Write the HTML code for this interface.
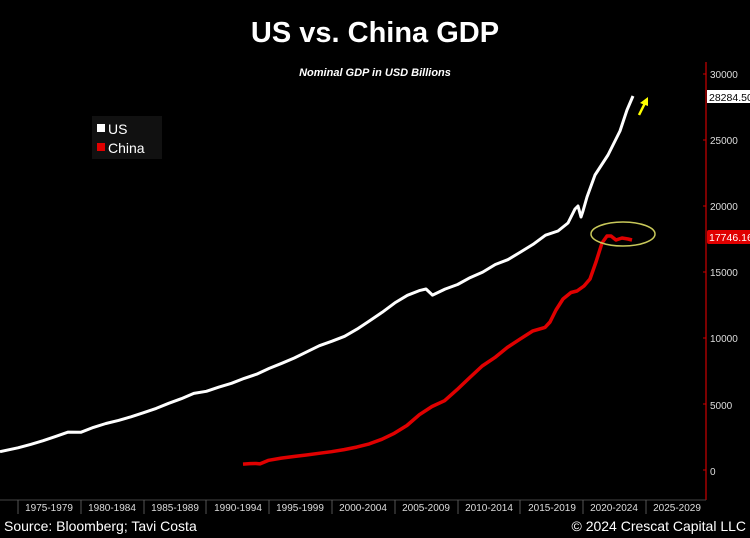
<!DOCTYPE html>
<html><head><style>
body{margin:0;background:#000;width:750px;height:538px;overflow:hidden;font-family:"Liberation Sans",sans-serif}
</style></head><body>
<svg width="750" height="538" xmlns="http://www.w3.org/2000/svg" style="display:block">
<rect width="750" height="538" fill="#000"/>
<text x="375" y="42" fill="#fff" font-size="29" font-weight="bold" text-anchor="middle">US vs. China GDP</text>
<text x="375" y="76" fill="#fff" font-size="11" font-weight="bold" font-style="italic" text-anchor="middle">Nominal GDP in USD Billions</text>
<!-- axis -->
<line x1="706" y1="62" x2="706" y2="500" stroke="#c00" stroke-width="1.2"/>
<line x1="0" y1="500" x2="706" y2="500" stroke="#444" stroke-width="1"/>
<g fill="#ddd" font-size="10" font-family="Liberation Sans Narrow,Liberation Sans,sans-serif">
<text x="710" y="78">30000</text><text x="710" y="144">25000</text><text x="710" y="210">20000</text>
<text x="710" y="276">15000</text><text x="710" y="342">10000</text><text x="710" y="409">5000</text><text x="710" y="475">0</text>
</g>
<g stroke="#c00"><line x1="703" y1="74" x2="706" y2="74"/><line x1="703" y1="140" x2="706" y2="140"/><line x1="703" y1="206" x2="706" y2="206"/><line x1="703" y1="272" x2="706" y2="272"/><line x1="703" y1="338" x2="706" y2="338"/><line x1="703" y1="404" x2="706" y2="404"/><line x1="703" y1="470" x2="706" y2="470"/></g>
<g stroke="#555"><line x1="18" y1="500" x2="18" y2="514"/><line x1="81" y1="500" x2="81" y2="514"/><line x1="144" y1="500" x2="144" y2="514"/><line x1="206" y1="500" x2="206" y2="514"/><line x1="269" y1="500" x2="269" y2="514"/><line x1="332" y1="500" x2="332" y2="514"/><line x1="395" y1="500" x2="395" y2="514"/><line x1="458" y1="500" x2="458" y2="514"/><line x1="520" y1="500" x2="520" y2="514"/><line x1="583" y1="500" x2="583" y2="514"/><line x1="646" y1="500" x2="646" y2="514"/></g>
<g fill="#ddd" font-size="10" text-anchor="middle">
<text x="49" y="511">1975-1979</text><text x="112" y="511">1980-1984</text><text x="175" y="511">1985-1989</text><text x="238" y="511">1990-1994</text><text x="300" y="511">1995-1999</text><text x="363" y="511">2000-2004</text><text x="426" y="511">2005-2009</text><text x="489" y="511">2010-2014</text><text x="552" y="511">2015-2019</text><text x="614" y="511">2020-2024</text><text x="677" y="511">2025-2029</text>
</g>
<!-- US: x=18+(yr-1975)*12.56, y=470-v*0.0132 -->
<polyline fill="none" stroke="#fff" stroke-width="3" stroke-linejoin="round" points="0,451.6 18,447.8 30.6,444.4 43.1,440.7 55.7,436.4 68.2,432.1 80.8,432.3 93.4,427.4 105.9,423.5 118.5,420.4 131,416.8 143.6,412.7 156.2,408.4 168.7,403.3 181.3,398.7 193.8,393.4 206.4,391.3 219,387.1 231.5,383.3 244.1,378.4 256.6,374.2 269.2,368.4 281.8,363.3 294.3,358.0 306.9,351.8 319.4,345.7 332,341.2 344.6,336.3 357.1,329.1 369.7,320.8 382.2,312.3 394.8,302.9 407.4,295.3 420,290.4 426,289 432.5,295.1 445,289.1 457.6,284.5 470.2,277.6 482.7,272.1 495.3,264.5 507.8,259.7 520.4,252.1 533,244.4 545.5,235.2 558,231 568,223 575,209 578,206 581,217 583,211 587,197 595,175 608,155 620,131 627,110 633,96"/>
<!-- China -->
<polyline fill="none" stroke="#e00000" stroke-width="3.5" stroke-linejoin="round" points="243,464.1 250,463.6 256,463.5 260,463.9 268.7,460.3 281.3,458.1 293.8,456.5 306.4,455.0 319,453.3 331.5,451.7 344.1,449.6 356.6,447.1 369.2,443.9 381.8,439.3 394.3,433.3 406.9,425.5 419.4,414.7 432,406.5 444.6,400.7 457.1,389.6 469.7,377.6 482.2,366.0 494.8,357.6 507.4,347.4 519.9,339.2 532.5,331.1 545,327.4 550,322 556,310 563,299 571,292.5 577,291 584,286 590,279 596,262 602,243 607,236 611,236 616,240 622,238 628,239 632,240"/>
<ellipse cx="623" cy="234" rx="32" ry="12" fill="none" stroke="#c8c85a" stroke-width="1.5"/>
<line x1="639" y1="115" x2="645" y2="103" stroke="#ffff00" stroke-width="2.5"/>
<polygon points="648,97 640,103 648,106" fill="#ffff00"/>
<!-- value labels -->
<rect x="707" y="90" width="45" height="13" fill="#fff"/>
<text x="709" y="101" font-size="10.5" fill="#000">28284.50</text>
<rect x="707" y="230" width="45" height="14" fill="#e00000" rx="2"/>
<text x="709" y="241" font-size="10.5" fill="#fff">17746.16</text>
<!-- legend -->
<rect x="92" y="116" width="70" height="43" fill="#111"/>
<rect x="97" y="124" width="8" height="8" fill="#fff"/>
<text x="108" y="134" font-size="14" fill="#fff">US</text>
<rect x="97" y="143" width="8" height="8" fill="#e00000"/>
<text x="108" y="153" font-size="14" fill="#fff">China</text>
<text x="4" y="531" font-size="14" fill="#fff">Source: Bloomberg; Tavi Costa</text>
<text x="746" y="531" font-size="14" fill="#fff" text-anchor="end">© 2024 Crescat Capital LLC</text>
</svg>
</body></html>
